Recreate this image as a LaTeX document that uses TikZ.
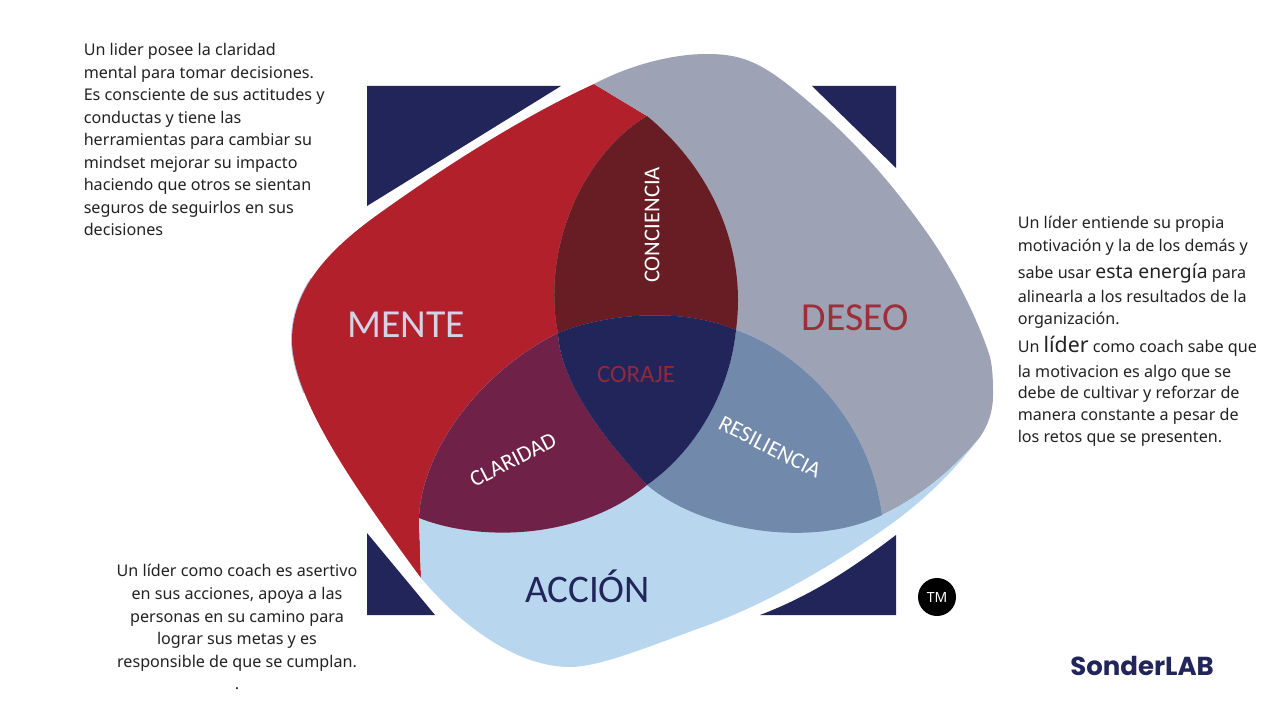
\documentclass[tikz,border=0pt]{standalone}
\usepackage{fontspec}
\setmainfont{Noto Sans}
\newfontfamily\calib{Carlito}
\newfontfamily\logof{Poppins}
\definecolor{cred}{HTML}{B2202C}
\definecolor{cgrey}{HTML}{9DA3B4}
\definecolor{cblue}{HTML}{B8D7EF}
\definecolor{cconc}{HTML}{671D23}
\definecolor{cclar}{HTML}{6F2148}
\definecolor{cresi}{HTML}{7189AA}
\definecolor{cnavy}{HTML}{21255A}
\definecolor{ctext}{HTML}{222222}
\definecolor{cmente}{HTML}{D3D3E8}
\definecolor{cdeseo}{HTML}{9E2E38}
\definecolor{ccoraje}{HTML}{8E2A3F}
\definecolor{cedge}{HTML}{AFC0DC}
\tikzset{
  body/.style={anchor=base west,inner sep=0pt,text=ctext,font=\fontsize{12.1}{14}\selectfont},
  bodyc/.style={anchor=base,inner sep=0pt,text=ctext,font=\fontsize{12.1}{14}\selectfont},
  biglabel/.style={inner sep=0pt,font=\calib\fontsize{29.8}{34}\selectfont},
  smalllabel/.style={inner sep=0pt,font=\calib\fontsize{17}{20}\selectfont}
}
\begin{document}
\begin{tikzpicture}[x=0.75pt,y=-0.75pt]
\path[use as bounding box,fill=white] (0,0) rectangle (1280,720);
% navy corners
\fill[cnavy] (367,86) -- (561,86) -- (367,206) -- cycle;
\fill[cnavy] (812,86) -- (896,86) -- (896,168) -- cycle;
\fill[cnavy] (367,533) -- (435,615) -- (367,615) -- cycle;
\fill[cnavy] (896,535) -- (896,615) -- (760,615) .. controls (810,596) and (850,570) .. (896,535) -- cycle;
% pale edge of the red blob
\begin{scope}
\clip (280,278) rectangle (330,392);
\draw[cedge,line width=1.4pt] (380,213) .. controls (335,245) and (292,285) .. (292,340)
  .. controls (292,400) and (360,495) .. (421,578);
\end{scope}
% MENTE
\fill[cred] (594,84) .. controls (520,118) and (440,170) .. (380,213)
  .. controls (335,245) and (292,285) .. (292,340)
  .. controls (292,400) and (360,495) .. (421,578)
  -- (419,518) .. controls (480,542) and (580,540) .. (647,485)
  .. controls (697,450) and (730,390) .. (736,330)
  .. controls (737,322) and (738,312) .. (738,300)
  .. controls (738,240) and (712,170) .. (647,116) -- cycle;
% DESEO
\fill[cgrey] (594,84) .. controls (630,65) and (672,54) .. (707,54)
  .. controls (745,54) and (765,64) .. (810,103)
  .. controls (850,137) and (885,175) .. (920,223)
  .. controls (955,270) and (980,325) .. (990,357)
  .. controls (993,370) and (993,383) .. (993,395)
  .. controls (993,412) and (988,425) .. (980,437)
  .. controls (955,468) and (920,497) .. (882,515)
  .. controls (810,550) and (700,530) .. (647,485)
  .. controls (610,445) and (560,385) .. (558,333)
  .. controls (542,255) and (578,158) .. (647,116) -- cycle;
% ACCION
\fill[cblue] (419,518) .. controls (422,450) and (480,372) .. (558,333)
  .. controls (610,312) and (685,308) .. (736,330)
  .. controls (800,352) and (870,420) .. (882,515)
  .. controls (920,497) and (955,468) .. (980,437)
  .. controls (955,470) and (925,500) .. (887,527)
  .. controls (830,567) and (765,605) .. (700,628)
  .. controls (650,646) and (600,667) .. (570,667)
  .. controls (520,667) and (465,630) .. (421,578) -- cycle;
% overlaps
\fill[cconc] (647,116) .. controls (712,170) and (738,240) .. (738,300)
  .. controls (738,312) and (737,322) .. (736,330)
  .. controls (685,308) and (610,312) .. (558,333)
  .. controls (542,255) and (578,158) .. (647,116) -- cycle;
\fill[cclar] (419,518) .. controls (422,450) and (480,372) .. (558,333)
  .. controls (560,385) and (610,445) .. (647,485)
  .. controls (580,540) and (480,542) .. (419,518) -- cycle;
\fill[cresi] (736,330) .. controls (800,352) and (870,420) .. (882,515)
  .. controls (810,550) and (700,530) .. (647,485)
  .. controls (697,450) and (730,390) .. (736,330) -- cycle;
\fill[cnavy] (558,333) .. controls (610,312) and (685,308) .. (736,330)
  .. controls (730,390) and (697,450) .. (647,485)
  .. controls (610,445) and (560,385) .. (558,333) -- cycle;
% big labels
\node[biglabel,text=cmente] (mente) at (406.5,325) {MENTE};
\node[biglabel,text=cdeseo] (deseo) at (855,318) {DESEO};
\node[biglabel,text=cnavy,font=\calib\fontsize{29.3}{34}\selectfont] (accion) at (587.5,586.5) {ACCIÓN};
\node[smalllabel,text=ccoraje,font=\calib\fontsize{18.7}{22}\selectfont] (coraje) at (636,374) {CORAJE};
\node[smalllabel,text=white,rotate=90] (conciencia) at (652,225) {CONCIENCIA};
\node[smalllabel,text=white,rotate=27] (claridad) at (513,460) {CLARIDAD};
\node[smalllabel,text=white,rotate=-27] (resiliencia) at (770,447) {RESILIENCIA};
% top left text
\node[body] (a1) at (83.5,56) {Un lider posee la claridad};
\node[body] (a2) at (83.5,78.5) {mental para tomar decisiones.};
\node[body] (a3) at (83.5,101) {Es consciente de sus actitudes y};
\node[body] (a4) at (83.5,123.5) {conductas y tiene las};
\node[body] (a5) at (83.5,146) {herramientas para cambiar su};
\node[body] (a6) at (83.5,168.5) {mindset mejorar su impacto};
\node[body] (a7) at (83.5,191) {haciendo que otros se sientan};
\node[body] (a8) at (83.5,213.5) {seguros de seguirlos en sus};
\node[body] (a9) at (83.5,236) {decisiones};
% right text
\node[body] (b1) at (1017.5,228.5) {Un líder entiende su propia};
\node[body] (b2) at (1017.5,252) {motivación y la de los demás y};
\node[body] (b3) at (1017.5,278) {sabe usar {\fontsize{14.5}{16}\selectfont esta energía} para};
\node[body] (b4) at (1017.5,302) {alinearla a los resultados de la};
\node[body] (b5) at (1017.5,324) {organización.};
\node[body] (b6) at (1017.5,352) {Un {\fontsize{16}{18}\selectfont líder} como coach sabe que};
\node[body] (b7) at (1017.5,377) {la motivacion es algo que se};
\node[body] (b8) at (1017.5,398) {debe de cultivar y reforzar de};
\node[body] (b9) at (1017.5,420) {manera constante a pesar de};
\node[body] (b10) at (1017.5,442) {los retos que se presenten.};
% bottom left text
\node[bodyc] (c1) at (237,576) {Un líder como coach es asertivo};
\node[bodyc] (c2) at (237,599) {en sus acciones, apoya a las};
\node[bodyc] (c3) at (237,622) {personas en su camino para};
\node[bodyc] (c4) at (237,644.5) {lograr sus metas y es};
\node[bodyc] (c5) at (237,667) {responsible de que se cumplan.};
\node[bodyc] (c6) at (237,689) {.};
% TM
\node[circle,fill=black,minimum size=28.5pt,inner sep=0pt,text=white,font=\fontsize{10.5}{12}\selectfont] (tm) at (937,597) {TM};
% logo
\node[inner sep=0pt,anchor=base west,text=cnavy,font=\logof\bfseries\fontsize{19.5}{22}\selectfont] (logo) at (1070,675) {SonderLAB};
\end{tikzpicture}
\end{document}
